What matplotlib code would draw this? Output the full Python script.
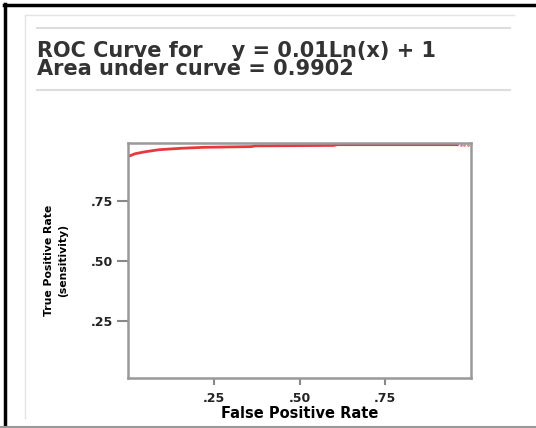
import matplotlib.pyplot as plt
from matplotlib.lines import Line2D

fpr = [0.0, 0.008, 0.02, 0.048, 0.09, 0.155, 0.22, 0.36, 0.37, 0.6, 0.61, 0.96]
tpr = [0.935, 0.938, 0.945, 0.953, 0.962, 0.968, 0.972, 0.975, 0.978, 0.980, 0.983, 0.983]
fpr_pts = [0.97, 0.98, 0.99]
tpr_pts = [0.983, 0.983, 0.983]

ticks = [0.25, 0.50, 0.75]
tick_labels = [".25", ".50", ".75"]

W, H = 536, 428
fig = plt.figure(figsize=(W / 100, H / 100), dpi=100)

def fx(px):   # pixel -> fraction figure (x)
    return px / W

def fy(py):   # pixel (depuis le haut) -> fraction figure (y)
    return 1 - py / H

# cadre extérieur
fig.add_artist(Line2D([fx(5), fx(5)], [fy(4), fy(428)], color="black", lw=2.5))
fig.add_artist(Line2D([fx(4), fx(536)], [fy(5), fy(5)], color="black", lw=2.5))
fig.add_artist(Line2D([fx(0), fx(536)], [fy(427), fy(427)], color="#999999", lw=1.5))

# panneau intérieur
fig.add_artist(Line2D([fx(25), fx(25)], [fy(15), fy(418)], color="#e4e4e4", lw=1))
fig.add_artist(Line2D([fx(25), fx(514)], [fy(15), fy(15)], color="#e4e4e4", lw=1))
fig.add_artist(Line2D([fx(37), fx(510)], [fy(28), fy(28)], color="#dddddd", lw=1.5))
fig.add_artist(Line2D([fx(37), fx(510)], [fy(90), fy(90)], color="#dddddd", lw=1.5))

# titre sur deux lignes, un seul texte
fig.text(fx(37), fy(41), "ROC Curve for    y = 0.01Ln(x) + 1\nArea under curve = 0.9902",
         fontsize=15, fontweight="bold", color="#333333", va="top", linespacing=0.89)

ax = fig.add_axes([fx(128), fy(378), fx(471) - fx(128), fy(143) - fy(378)])
ax.plot(fpr, tpr, "-", color="#e8383d", lw=2)
ax.plot(fpr_pts, tpr_pts, ".", color="#f08080", ms=2)
ax.set_xlim(0, 1.0)
ax.set_ylim(0.011, 0.99)

for s in ax.spines.values():
    s.set_color("#999999")
    s.set_linewidth(1.8)

ax.set_xticks(ticks)
ax.set_xticklabels(tick_labels, fontsize=9, fontweight="bold", color="#222222")
ax.set_yticks(ticks)
ax.set_yticklabels(tick_labels, fontsize=9, fontweight="bold", color="#222222")
ax.tick_params(axis="x", length=5, width=1.5, color="#888888", pad=5)
ax.tick_params(axis="y", length=8, width=1.5, color="#888888", pad=3)

ax.set_xlabel("False Positive Rate", fontsize=10.5, fontweight="bold", labelpad=1)
ax.set_ylabel("True Positive Rate\n(sensitivity)", fontsize=7.8, fontweight="bold",
              labelpad=16, linespacing=1.5)

fig.savefig("out.png", dpi=100)
